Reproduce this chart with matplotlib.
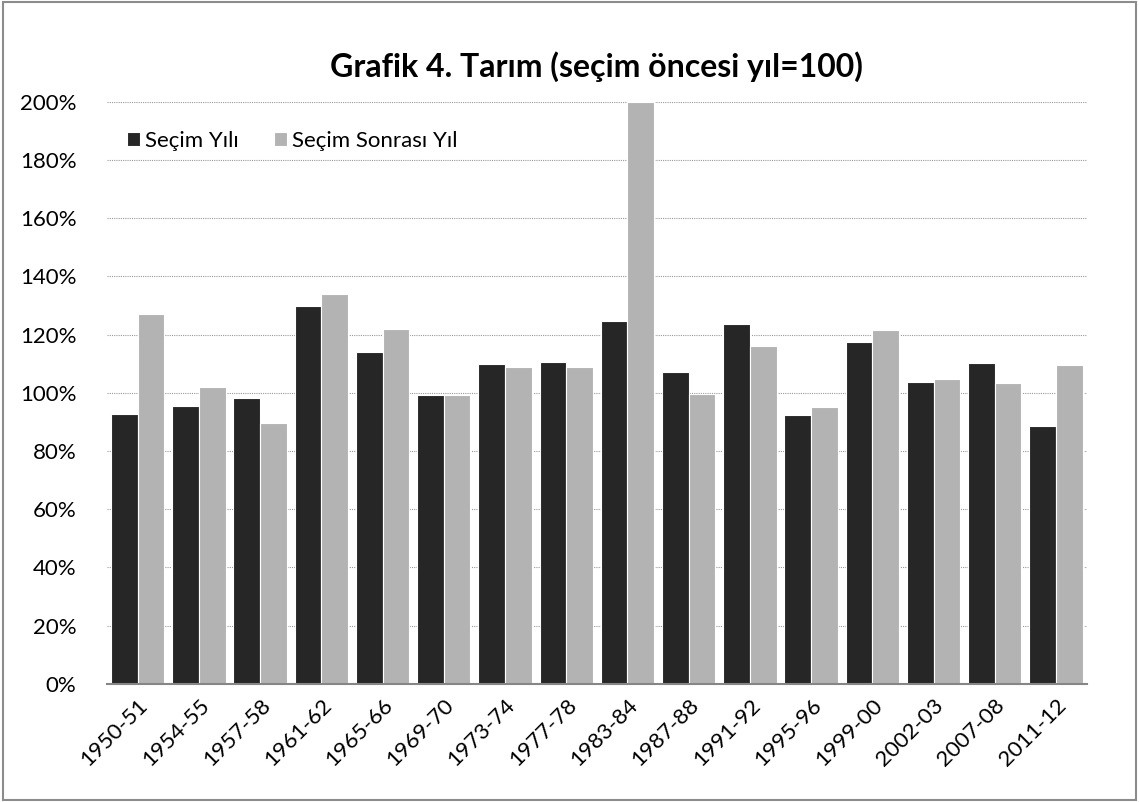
import numpy as np
import matplotlib.pyplot as plt
from matplotlib.patches import Rectangle
from matplotlib.ticker import FuncFormatter

plt.rcParams['font.family'] = ['Lato', 'DejaVu Sans']

periods = ['1950-51', '1954-55', '1957-58', '1961-62', '1965-66', '1969-70',
           '1973-74', '1977-78', '1983-84', '1987-88', '1991-92', '1995-96',
           '1999-00', '2002-03', '2007-08', '2011-12']
election_year = [92.6, 95.3, 98.1, 130.0, 113.9, 99.2, 109.8, 110.5,
                 124.7, 107.1, 123.8, 92.4, 117.6, 103.6, 110.2, 88.7]
after_year = [127.1, 101.9, 89.7, 134.0, 122.0, 99.1, 108.7, 108.8,
              200.0, 99.5, 116.0, 95.1, 121.7, 104.9, 103.3, 109.6]

fig = plt.figure(figsize=(11.39, 8.02), dpi=100)
ax = fig.add_axes([0.094, 0.1475, 0.86, 0.7255])

x = np.arange(len(periods))
w = 0.435
ax.bar(x - w / 2, election_year, w, color='#262626', edgecolor='white',
       linewidth=0.8, label='Seçim Yılı', zorder=2)
ax.bar(x + w / 2, after_year, w, color='#b3b3b3', edgecolor='white',
       linewidth=0.8, label='Seçim Sonrası Yıl', zorder=2)

ax.set_xlim(-0.5, len(periods) - 0.5)
ax.set_ylim(0, 200)
ax.set_yticks(np.arange(0, 201, 20))
ax.yaxis.set_major_formatter(FuncFormatter(lambda v, p: '%d%%' % v))
ax.set_xticks(x)
ax.set_xticklabels(periods, rotation=45, ha='right', rotation_mode='anchor')
ax.tick_params(axis='both', length=0, labelsize=16)
ax.tick_params(axis='y', pad=22)
ax.tick_params(axis='x', pad=8)
ax.yaxis.grid(True, linestyle=(0, (1, 1)), color='#9a9a9a', linewidth=0.8)
ax.set_axisbelow(True)
for s in ['left', 'right', 'top']:
    ax.spines[s].set_visible(False)
ax.spines['bottom'].set_color('#868686')
ax.spines['bottom'].set_linewidth(1.5)

ax.legend(loc='upper left', bbox_to_anchor=(0.0, 0.985), ncol=2, frameon=False,
          fontsize=16, handlelength=0.6, handleheight=0.6, handletextpad=0.2,
          columnspacing=1.6)

ax.set_title('Grafik 4. Tarım (seçim öncesi yıl=100)', fontsize=23,
             fontweight='bold', pad=18)

fig.patches.append(Rectangle((0.003, 0.003), 0.994, 0.994, transform=fig.transFigure,
                             fill=False, edgecolor='#8c8c8c', linewidth=1.5))

fig.savefig('out.png', dpi=100)
